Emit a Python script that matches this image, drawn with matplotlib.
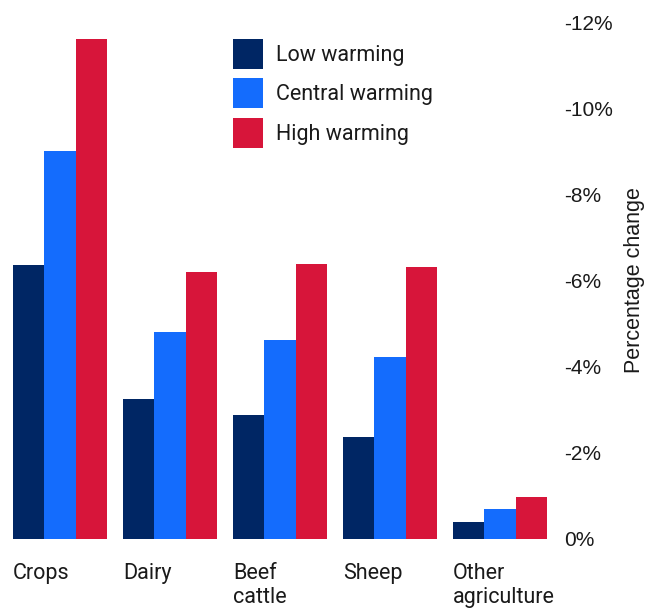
import matplotlib.pyplot as plt
import matplotlib.transforms as mtransforms
import numpy as np

categories = ['Crops', 'Dairy', 'Beef\ncattle', 'Sheep', 'Other\nagriculture']
low = [-6.35, -3.25, -2.88, -2.37, -0.39]
central = [-9.0, -4.8, -4.62, -4.22, -0.7]
high = [-11.6, -6.2, -6.38, -6.31, -0.97]
series = [('Low warming', low, '#002664'),
          ('Central warming', central, '#146CFD'),
          ('High warming', high, '#D7153A')]
yticks = [0, -2, -4, -6, -8, -10, -12]


def main():
    fig = plt.figure(figsize=(6.6, 6.12), dpi=100)
    ax = fig.add_axes([13 / 660, 1 - 539 / 612, 534 / 660, 517 / 612])
    x = np.arange(len(categories))
    w = 0.285
    for i, (name, vals, color) in enumerate(series):
        ax.bar(x + (i - 1) * w, vals, w, color=color, label=name)

    ax.set_xlim(-1.5 * w, len(categories) - 1 + 1.5 * w)
    ax.set_ylim(0, -12)
    ax.set_yticks(yticks)
    ax.set_yticklabels(['%d%%' % v for v in yticks], family='Liberation Sans', fontsize=15)
    ax.yaxis.tick_right()
    ax.yaxis.set_label_position('right')
    ax.tick_params(axis='y', length=0, pad=12, colors='#1a1a1a')
    ax.set_ylabel('Percentage change', family='Liberation Sans', fontsize=15.5, labelpad=8, color='#1a1a1a')
    ax.set_xticks([])
    for s in ax.spines.values():
        s.set_visible(False)

    trans = mtransforms.blended_transform_factory(ax.transData, fig.transFigure)
    for xi, cat in zip(x, categories):
        ax.text(xi - 1.5 * w, 1 - 563 / 612, cat, transform=trans, ha='left', va='top',
                family='Roboto', fontsize=15.5, color='#1a1a1a', linespacing=1.2)

    leg = ax.legend(loc='upper left', bbox_to_anchor=(233 / 660, 1 - 39 / 612),
                    bbox_transform=fig.transFigure, frameon=False, borderpad=0,
                    borderaxespad=0, handlelength=1.4, handleheight=1.75,
                    handletextpad=0.6, labelspacing=0.45,
                    prop={'family': 'Roboto', 'size': 15.5})
    for t in leg.get_texts():
        t.set_color('#1a1a1a')

    fig.savefig('out.png', dpi=100)


if __name__ == '__main__':
    main()
